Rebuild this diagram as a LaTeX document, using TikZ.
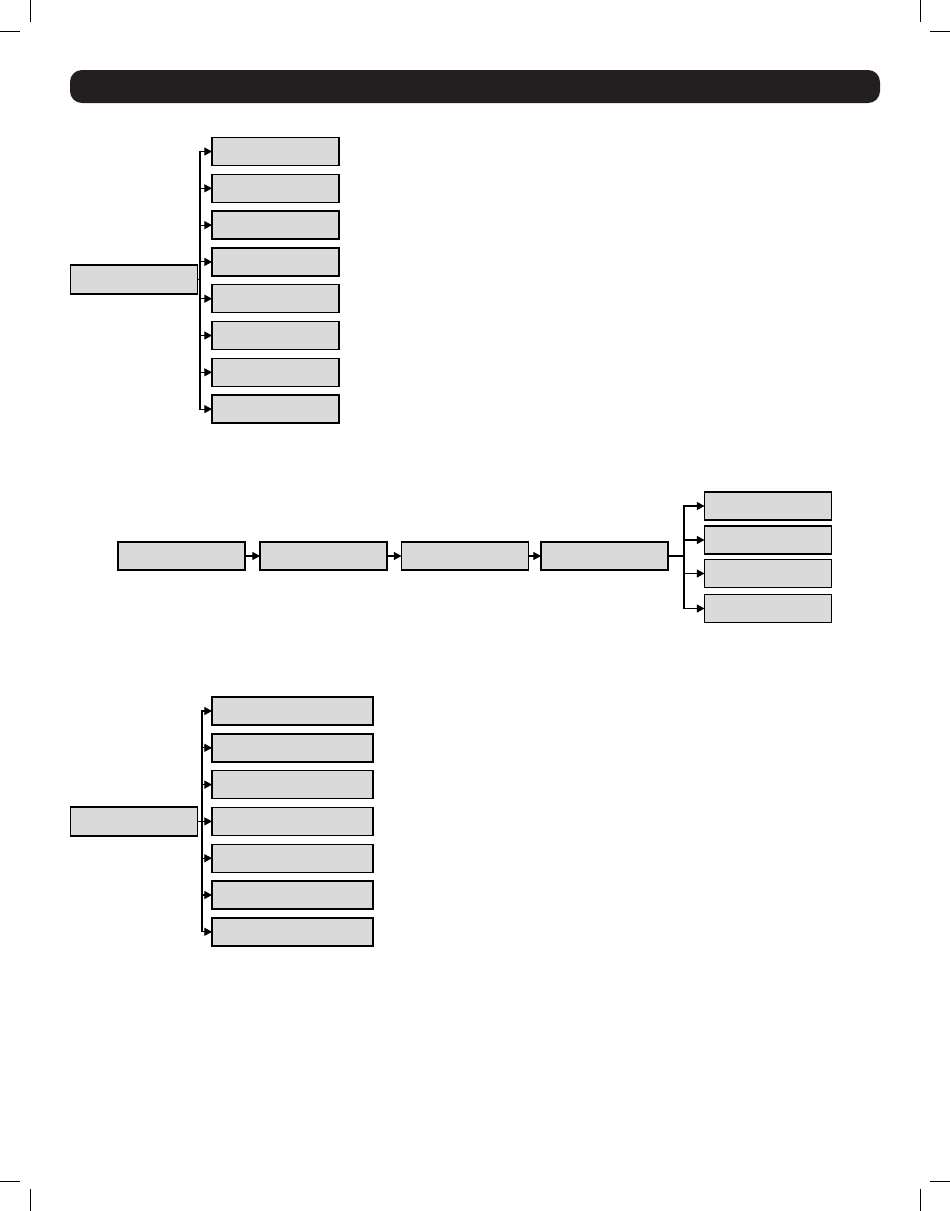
\documentclass[tikz,border=0pt]{standalone}
\usetikzlibrary{arrows.meta}

\definecolor{boxgrey}{HTML}{DADADA}
\definecolor{barblack}{HTML}{231F20}

\tikzset{
  menubox/.style={draw, fill=boxgrey, rectangle, line width=0.8pt, inner sep=0pt, outer sep=0pt, minimum width=2.54cm, minimum height=0.56cm},
  widebox/.style={menubox, minimum width=3.22cm},
  link/.style={line width=0.6pt, -{Triangle[length=4.4pt, width=4.6pt]}},
  plain/.style={line width=0.6pt},
  cropmark/.style={line width=0.55pt}
}

\begin{document}
\begin{tikzpicture}[x=0.02cm, y=-0.02cm]
  \useasboundingbox (0,0) rectangle (950,1211);
  % Crop marks
  \draw[cropmark] (30,0) -- (30,22);
  \draw[cropmark] (0,31) -- (20,31);
  \draw[cropmark] (920,0) -- (920,22);
  \draw[cropmark] (930,31) -- (950,31);
  \draw[cropmark] (30,1189) -- (30,1211);
  \draw[cropmark] (0,1181) -- (20,1181);
  \draw[cropmark] (920,1189) -- (920,1211);
  \draw[cropmark] (930,1181) -- (950,1181);
  % Title bar
  \fill[barblack, rounded corners=6.8pt] (70,70) rectangle (880,103);

  % First menu
  \node[menubox, minimum height=0.58cm] (m) at (134,279.5) {};
  \node[menubox] (m1) at (275.5,151.5) {};
  \node[menubox] (m2) at (275.5,188.3) {};
  \node[menubox] (m3) at (275.5,225.1) {};
  \node[menubox] (m4) at (275.5,261.9) {};
  \node[menubox] (m5) at (275.5,298.7) {};
  \node[menubox] (m6) at (275.5,335.5) {};
  \node[menubox] (m7) at (275.5,372.3) {};
  \node[menubox] (m8) at (275.5,409.1) {};
  \coordinate (mj) at (200,279.5);
  % Draw the branches
  \draw[link] (m.east) -- (mj) |- (m1.west);
  \draw[link] (m.east) -- (mj) |- (m2.west);
  \draw[link] (m.east) -- (mj) |- (m3.west);
  \draw[link] (m.east) -- (mj) |- (m4.west);
  \draw[link] (m.east) -- (mj) |- (m5.west);
  \draw[link] (m.east) -- (mj) |- (m6.west);
  \draw[link] (m.east) -- (mj) |- (m7.west);
  \draw[link] (m.east) -- (mj) |- (m8.west);

  % Second menu
  \node[menubox] (s1) at (181.5,556) {};
  \node[menubox] (s2) at (323.5,556) {};
  \node[menubox] (s3) at (465,556) {};
  \node[menubox] (s4) at (604.5,556) {};
  \node[menubox] (r1) at (768,506) {};
  \node[menubox] (r2) at (768,540) {};
  \node[menubox] (r3) at (768,573.5) {};
  \node[menubox] (r4) at (768,608.5) {};
  \coordinate (sj) at (684,556);
  % Draw the chain
  \draw[link] (s1) -- (s2);
  \draw[link] (s2) -- (s3);
  \draw[link] (s3) -- (s4);
  \draw[plain] (s4.east) -- (sj);
  \draw[link] (sj) |- (r1.west);
  \draw[link] (sj) |- (r2.west);
  \draw[link] (sj) |- (r3.west);
  \draw[link] (sj) |- (r4.west);

  % Third menu
  \node[menubox, minimum height=0.58cm] (t) at (134,821.5) {};
  \node[widebox] (t1) at (292.5,711) {};
  \node[widebox] (t2) at (292.5,747.8) {};
  \node[widebox] (t3) at (292.5,784.6) {};
  \node[widebox] (t4) at (292.5,821.4) {};
  \node[widebox] (t5) at (292.5,858.2) {};
  \node[widebox] (t6) at (292.5,895) {};
  \node[widebox] (t7) at (292.5,931.8) {};
  \coordinate (tj) at (202,821.5);
  % Draw the branches
  \draw[link] (t.east) -- (tj) |- (t1.west);
  \draw[link] (t.east) -- (tj) |- (t2.west);
  \draw[link] (t.east) -- (tj) |- (t3.west);
  \draw[link] (t.east) -- (tj) |- (t4.west);
  \draw[link] (t.east) -- (tj) |- (t5.west);
  \draw[link] (t.east) -- (tj) |- (t6.west);
  \draw[link] (t.east) -- (tj) |- (t7.west);
\end{tikzpicture}
\end{document}
